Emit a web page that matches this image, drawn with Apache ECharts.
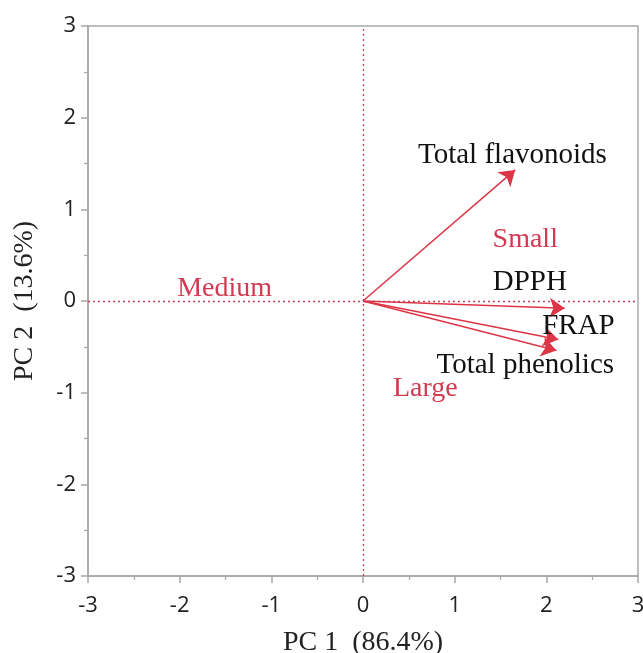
<!DOCTYPE html>
<html>
<head>
<meta charset="utf-8">
<script src="https://cdn.jsdelivr.net/npm/echarts@6/dist/echarts.min.js"></script>
<style>
  html, body { margin: 0; padding: 0; background: #fff; }
  #chart { width: 643px; height: 653px; }
</style>
</head>
<body>
<div id="chart"></div>
<script>
// loading vectors (PC1, PC2)
const varNames = ['Total flavonoids', 'DPPH', 'FRAP', 'Total phenolics'];
const varPC1 = [1.66, 2.2, 2.13, 2.11];
const varPC2 = [1.43, -0.08, -0.42, -0.54];
// where each variable's name is written
const varLabelX = [1.63, 1.82, 2.35, 1.77];
const varLabelY = [1.59, 0.2, -0.28, -0.7];
// group names
const groupNames = ['Small', 'Medium', 'Large'];
const groupX = [1.77, -1.51, 0.68];
const groupY = [0.67, 0.13, -0.96];

const axisMin = -3, axisMax = 3, axisStep = 1;

const red = '#dc3545';
const serif = '"Liberation Serif", "DejaVu Serif", serif';
const sans = '"Open Sans", "Noto Sans", sans-serif';

const chart = echarts.init(document.getElementById('chart'));

const axisCommon = {
    type: 'value',
    min: axisMin,
    max: axisMax,
    interval: axisStep,
    splitLine: { show: false },
    axisLine: { show: true, onZero: false, lineStyle: { color: '#a8a8a8', width: 1.5 } },
    axisTick: { show: true, inside: false, length: 7, lineStyle: { color: '#a8a8a8', width: 1.5 } },
    minorTick: { show: true, splitNumber: 2, length: 4, lineStyle: { color: '#a8a8a8', width: 1.2 } },
    axisLabel: { color: '#222', fontSize: 22, fontFamily: sans },
    nameLocation: 'middle',
    nameTextStyle: { color: '#222', fontSize: 28, fontFamily: serif }
};

chart.setOption({
    animation: false,
    grid: {
        left: 88, top: 26, width: 550, height: 550,
        outerBoundsMode: 'none',
        show: true, borderColor: '#a8a8a8', borderWidth: 1.5, backgroundColor: '#fff'
    },
    xAxis: Object.assign({}, axisCommon, {
        name: 'PC 1  (86.4%)',
        nameGap: 53,
        axisLabel: Object.assign({}, axisCommon.axisLabel, { margin: 19 })
    }),
    yAxis: Object.assign({}, axisCommon, {
        name: 'PC 2  (13.6%)',
        nameGap: 49,
        axisLabel: Object.assign({}, axisCommon.axisLabel, { margin: 12 })
    }),
    series: [
        {
            type: 'lines',
            coordinateSystem: 'cartesian2d',
            symbol: ['none', 'arrow'],
            symbolSize: [11, 15],
            lineStyle: { color: red, width: 1.5, opacity: 1 },
            data: varNames.map((n, i) => ({ name: n, coords: [[0, 0], [varPC1[i], varPC2[i]]] })),
            markLine: {
                silent: true,
                symbol: 'none',
                label: { show: false },
                lineStyle: { color: '#c8405a', type: [2, 3], width: 1.3 },
                data: [{ xAxis: 0 }, { yAxis: 0 }]
            },
            z: 3
        },
        {
            type: 'scatter',
            symbolSize: 0,
            itemStyle: { opacity: 1 },
            data: varNames.map((n, i) => ({ name: n, value: [varLabelX[i], varLabelY[i]] })),
            label: {
                show: true, position: 'inside', formatter: '{b}',
                color: '#111', fontSize: 29, fontFamily: serif
            },
            z: 4
        },
        {
            type: 'scatter',
            symbolSize: 0,
            itemStyle: { opacity: 1 },
            data: groupNames.map((n, i) => ({ name: n, value: [groupX[i], groupY[i]] })),
            label: {
                show: true, position: 'inside', formatter: '{b}',
                color: '#d23a52', fontSize: 28, fontFamily: serif
            },
            z: 4
        }
    ]
});
</script>
</body>
</html>
